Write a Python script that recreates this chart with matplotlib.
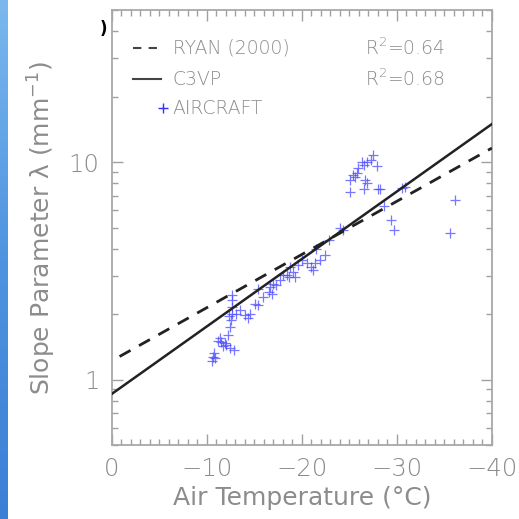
import numpy as np
import matplotlib
matplotlib.use("Agg")
import matplotlib.pyplot as plt
from matplotlib.ticker import FixedLocator, NullFormatter, FixedFormatter, MultipleLocator
from matplotlib.colors import LinearSegmentedColormap

# Aircraft observations: air temperature (deg C) and slope parameter (mm^-1)
aircraft_temp = [-10.6, -10.5, -10.7, -10.8, -11.2, -11.5, -11.7, -11.9, -11.4, -12.0,
                 -12.4, -12.8, -12.2, -12.4, -12.5, -12.6, -12.6, -12.6, -12.6, -12.3,
                 -13.1, -13.5, -14.0, -14.5, -14.3, -15.05, -15.4, -15.9, -15.4, -16.6,
                 -16.8, -16.5, -17.0, -17.3, -17.7, -18.0, -18.4, -18.6, -18.7, -19.1,
                 -19.3, -19.6, -20.0, -20.5, -21.0, -21.2, -21.4, -21.9, -22.4, -21.5,
                 -22.8, -24.0, -24.3,
                 -27.5, -27.9, -27.3, -26.8, -26.3, -26.5, -25.9, -25.8, -25.4, -25.05,
                 -25.6, -26.6, -26.8, -25.05, -26.5, -28.0, -28.2, -28.6, -30.5, -30.8,
                 -29.4, -29.7, -36.1, -35.6]
aircraft_lambda = [1.27, 1.22, 1.33, 1.25, 1.51, 1.49, 1.43, 1.47, 1.55, 1.44,
                   1.40, 1.37, 1.60, 1.74, 1.87, 2.00, 2.15, 2.31, 2.44, 1.95,
                   2.00, 2.08, 1.97, 2.00, 1.92, 2.23, 2.19, 2.40, 2.62, 2.66,
                   2.48, 2.53, 2.76, 2.71, 2.86, 3.02, 3.02, 2.96, 3.30, 3.13,
                   2.96, 3.36, 3.54, 3.45, 3.30, 3.18, 3.42, 3.54, 3.73, 4.00,
                   4.37, 4.95, 4.85,
                   10.8, 9.6, 10.2, 10.05, 10.05, 9.7, 9.37, 8.9, 8.7, 8.3,
                   8.5, 8.3, 8.0, 7.3, 7.5, 7.5, 7.5, 6.3, 7.6, 7.7,
                   5.4, 4.87, 6.7, 4.73]

# Exponential fits: lambda = a * exp(-b * T)
ryan_a, ryan_b = 1.22, 0.0563
c3vp_a, c3vp_b = 0.86, 0.0714
ryan_range = [-0.8, -40.0]
c3vp_range = [0.0, -40.0]
ryan_r2 = "0.64"
c3vp_r2 = "0.68"

x_major = [0, -10, -20, -30, -40]
x_labels = ["0", "\u221210", "\u221220", "\u221230", "\u221240"]

grey = "#8c8c8c"
plt.rcParams["font.family"] = ["DejaVu Sans"]
plt.rcParams["font.weight"] = "light"
plt.rcParams["mathtext.default"] = "regular"

fig = plt.figure(figsize=(5.19, 5.19), dpi=100)
fig.patch.set_facecolor("white")

# blue strip on the left edge
strip = fig.add_axes([0, 0, 0.015, 1])
cmap = LinearSegmentedColormap.from_list("strip", ["#7ab8ee", "#4f93e0", "#3d7fd6"])
strip.imshow(np.linspace(0, 1, 256).reshape(-1, 1), aspect="auto", cmap=cmap)
strip.axis("off")

ax = fig.add_axes([0.2158, 0.1426, 0.732, 0.838])
ax.set_yscale("log")
ax.set_xlim(0, -40)
ax.set_ylim(0.5, 50)

ax.plot(aircraft_temp, aircraft_lambda, linestyle="none", marker="+",
        markersize=7.5, markeredgewidth=0.9, color="#4a4aff", alpha=0.75, zorder=2)

t = np.linspace(ryan_range[0], ryan_range[1], 200)
ax.plot(t, ryan_a * np.exp(-ryan_b * t), color="#222222", lw=2.0,
        dashes=(4.5, 3.5), zorder=3)
t = np.linspace(c3vp_range[0], c3vp_range[1], 200)
ax.plot(t, c3vp_a * np.exp(-c3vp_b * t), color="#222222", lw=1.8, zorder=3)

for s in ax.spines.values():
    s.set_color("#a8a8a8")
    s.set_linewidth(1.3)

ax.xaxis.set_major_locator(FixedLocator(x_major))
ax.xaxis.set_major_formatter(FixedFormatter(x_labels))
ax.xaxis.set_minor_locator(MultipleLocator(1))
ax.yaxis.set_major_locator(FixedLocator([1, 10]))
ax.yaxis.set_major_formatter(FixedFormatter(["1", "10"]))
minors = [v * d for d in (0.1, 1, 10) for v in range(2, 10)]
ax.yaxis.set_minor_locator(FixedLocator([m for m in minors if 0.5 <= m <= 50]))
ax.yaxis.set_minor_formatter(NullFormatter())
ax.tick_params(which="both", direction="in", top=True, right=True, colors="#a0a0a0",
               width=1.0)
ax.tick_params(which="major", length=8, labelsize=17.5, labelcolor=grey, pad=9)
ax.tick_params(which="minor", length=4)

ax.set_xlabel("Air Temperature (\u00b0C)", fontsize=18, color=grey, labelpad=3)
ax.set_ylabel("Slope Parameter \u03bb (mm$^{-1}$)", fontsize=18, color=grey, labelpad=8)

# legend drawn by hand in axes coordinates
tx = ax.transAxes
fs = 13.5
ax.plot([0.055, 0.13], [0.912, 0.912], transform=tx, color="#444444", lw=1.5,
        dashes=(4, 3.5))
ax.plot([0.055, 0.13], [0.841, 0.841], transform=tx, color="#444444", lw=1.5)
ax.plot([0.135], [0.774], transform=tx, marker="+", color="#3030ff", markersize=7,
        markeredgewidth=1.0, linestyle="none")
ax.text(0.16, 0.912, "RYAN (2000)", transform=tx, fontsize=fs, color=grey, va="center")
ax.text(0.16, 0.841, "C3VP", transform=tx, fontsize=fs, color=grey, va="center")
ax.text(0.16, 0.774, "AIRCRAFT", transform=tx, fontsize=fs, color=grey, va="center")
ax.text(0.665, 0.912, "R$^2$=" + ryan_r2, transform=tx, fontsize=fs, color=grey, va="center")
ax.text(0.665, 0.841, "R$^2$=" + c3vp_r2, transform=tx, fontsize=fs, color=grey, va="center")

fig.text(0.2, 0.944, ")", fontsize=12, color="black", ha="center", va="center",
         fontweight="bold")

fig.savefig("out.png", dpi=100)
